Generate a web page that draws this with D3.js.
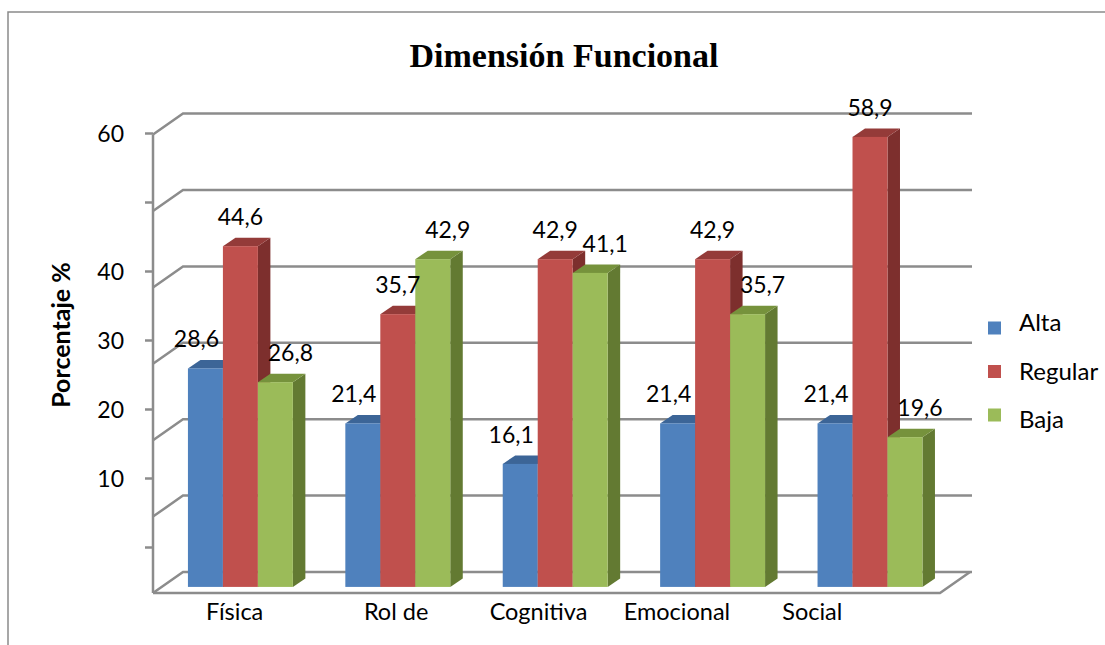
<!DOCTYPE html>
<html>
<head>
<meta charset="utf-8">
<script src="https://cdn.jsdelivr.net/npm/d3@7/dist/d3.min.js"></script>
<style>
  html, body { margin: 0; padding: 0; background: #fff; }
  svg { display: block; }
  text { font-family: Lato, "Open Sans", sans-serif; fill: #000; }
</style>
</head>
<body>
<svg id="chart" width="1105" height="645"></svg>
<script>
// ---- data ----
const categories = ["Física", "Rol de", "Cognitiva", "Emocional", "Social"];
const seriesNames = ["Alta", "Regular", "Baja"];
const alta    = [28.6, 21.4, 16.1, 21.4, 21.4];
const regular = [44.6, 35.7, 42.9, 42.9, 58.9];
const baja    = [26.8, 42.9, 41.1, 35.7, 19.6];
const seriesValues = [alta, regular, baja];
const yTickValues = [0, 10, 20, 30, 40, 50, 60];
const yTickLabels = ["", "10", "20", "30", "40", "", "60"];

// ---- styling ----
const faces = {
  Alta:    { front: "#4F81BD", top: "#3C6597", side: "#385D8A" },
  Regular: { front: "#C0504D", top: "#943B39", side: "#7D2F2D" },
  Baja:    { front: "#9BBB59", top: "#76923C", side: "#637A32" }
};
const gridColor = "#8C8C8C";

const svg = d3.select("#chart");

// frame of the chart area
svg.append("path")
  .attr("d", "M8,645 V12 H1105")
  .attr("fill", "none").attr("stroke", "#8A8A8A").attr("stroke-width", 1.5);

// ---- 3D layout: floor front edge, depth vector, value scale ----
const floorLeft = 153, floorRight = 940, floorY = 593;
const depth = { dx: 30, dy: -21 };          // full floor depth (oblique)
const barDepthT = 0.29;                      // where the bar fronts sit along the depth
const barThick = { dx: 12.5, dy: -8.5 };     // bar's own depth

const h = d3.scaleLinear().domain([0, 60]).range([0, 458.4]);   // value -> height in px

const x0 = d3.scaleBand().domain(categories).range([floorLeft, floorRight])
  .paddingInner(1 / 3).paddingOuter(1 / 6);
const x1 = d3.scaleBand().domain(seriesNames).range([0, x0.bandwidth()]);

// back wall gridlines + left wall diagonals
const backY = v => floorY + depth.dy - h(v);
const grid = svg.append("g").attr("fill", "none").attr("stroke", gridColor).attr("stroke-width", 2.5);
yTickValues.forEach(v => {
  const yb = backY(v);
  grid.append("path").attr("d",
    `M${floorLeft},${yb - depth.dy} L${floorLeft + depth.dx},${yb} L${floorRight + depth.dx + 2},${yb}`);
});
// floor outline
grid.append("path").attr("d",
  `M${floorLeft},${floorY} L${floorRight},${floorY} L${floorRight + depth.dx},${floorY + depth.dy}`);
// front edge of the side wall
grid.append("path").attr("d",
  `M${floorLeft},${floorY} V${backY(60) - depth.dy}`);

// value axis ticks along the wall edge
const yAxisScale = d3.scaleLinear().domain([0, 60]).range([547, 133]);
const yAxis = d3.axisLeft(yAxisScale)
  .tickValues(yTickValues)
  .tickFormat((d, i) => yTickLabels[i])
  .tickSize(8).tickPadding(21);
const yg = svg.append("g").attr("transform", `translate(${floorLeft},0)`).call(yAxis);
yg.select(".domain").remove();
yg.selectAll(".tick line").attr("stroke", gridColor).attr("stroke-width", 2.5);
yg.selectAll(".tick text").style("font-size", "23px").attr("dy", "0.38em")
  .style("font-family", "Lato, 'Open Sans', sans-serif").attr("fill", "#000");

// ---- bars ----
const offX = barDepthT * depth.dx, offY = barDepthT * depth.dy;
const bars = [];
categories.forEach((c, ci) => {
  seriesNames.forEach((s, si) => {
    const v = seriesValues[si][ci];
    bars.push({ c, s, si, v,
      x: x0(c) + x1(s) + offX,
      w: x1.bandwidth(),
      yBottom: floorY + offY,
      yTop: floorY + offY - h(v) });
  });
});

const barG = svg.append("g");
bars.forEach(b => {
  const g = barG.append("g");
  const f = faces[b.s];
  const { dx, dy } = barThick;
  g.append("path").attr("fill", f.side).attr("d",
    `M${b.x + b.w},${b.yTop} L${b.x + b.w + dx},${b.yTop + dy} L${b.x + b.w + dx},${b.yBottom + dy} L${b.x + b.w},${b.yBottom}Z`);
  g.append("path").attr("fill", f.top).attr("d",
    `M${b.x},${b.yTop} L${b.x + dx},${b.yTop + dy} L${b.x + b.w + dx},${b.yTop + dy} L${b.x + b.w},${b.yTop}Z`);
  g.append("rect").attr("fill", f.front)
    .attr("x", b.x).attr("y", b.yTop).attr("width", b.w).attr("height", b.yBottom - b.yTop);
});

// value labels (spread per series so neighbours don't collide)
const labelShift = { Alta: -9, Regular: 0, Baja: 15 };
svg.append("g").selectAll("text").data(bars).join("text")
  .attr("x", d => d.x + d.w / 2 + labelShift[d.s])
  .attr("y", d => d.yTop - 21)
  .attr("text-anchor", "middle")
  .style("font-size", "23px")
  .text(d => d3.format(".1f")(d.v).replace(".", ","));

// category labels under the floor
const catNudge = [3, 7, -8, -27, -49];
svg.append("g").selectAll("text").data(categories).join("text")
  .attr("x", (d, i) => x0(d) + x0.bandwidth() / 2 + catNudge[i])
  .attr("y", 620)
  .attr("text-anchor", "middle")
  .style("font-size", "23.5px")
  .text(d => d);

// axis title
svg.append("text")
  .attr("transform", "translate(70,335) rotate(-90)")
  .attr("text-anchor", "middle")
  .style("font-size", "25px").style("font-weight", "bold")
  .text("Porcentaje %");

// chart title
svg.append("text")
  .attr("x", 564).attr("y", 67)
  .attr("text-anchor", "middle")
  .style("font-family", "'Liberation Serif', 'DejaVu Serif', serif")
  .style("font-size", "34px").style("font-weight", "bold")
  .text("Dimensión Funcional");

// legend
const legend = svg.append("g").attr("transform", "translate(988,0)");
seriesNames.forEach((s, i) => {
  const sy = 328 + i * 43.5;
  const ty = 322.5 + i * 48.75;
  legend.append("rect").attr("x", 0).attr("y", sy - 6.5).attr("width", 13).attr("height", 13)
    .attr("fill", faces[s].front);
  legend.append("text").attr("x", 31).attr("y", ty).attr("dy", "0.35em")
    .style("font-size", "24px").text(s);
});
</script>
</body>
</html>
